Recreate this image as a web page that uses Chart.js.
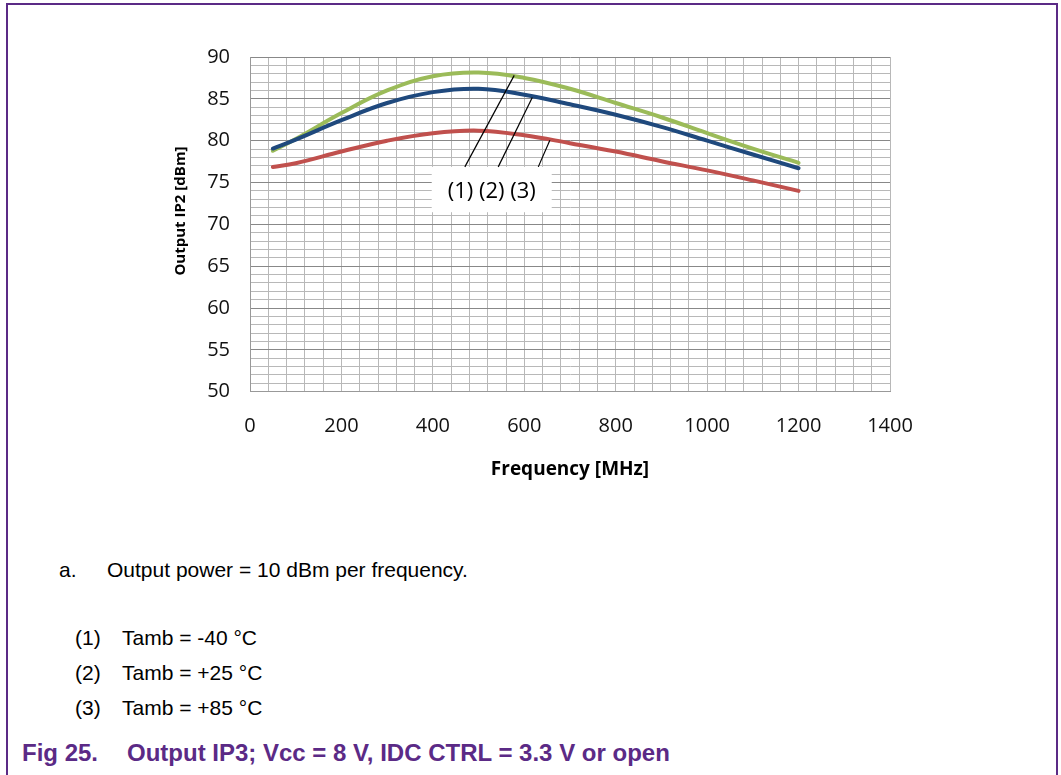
<!DOCTYPE html>
<html>
<head>
<meta charset="utf-8">
<script src="https://cdn.jsdelivr.net/npm/chart.js@4.4.1/dist/chart.umd.min.js"></script>
<style>
  html, body { margin: 0; padding: 0; background: #fff; }
  body { width: 1061px; height: 775px; position: relative; overflow: hidden; font-family: "Liberation Sans", Arial, sans-serif; }
  #frame { position: absolute; left: 6px; top: 3px; width: 1048px; height: 820px; border: 2px solid #5b2a86; border-bottom: none; }
  #wrap { position: absolute; left: 0; top: 0; width: 1061px; height: 520px; }
  .txt { position: absolute; font-size: 21px; line-height: 21px; color: #000; white-space: pre; }
  .fig { position: absolute; font-size: 24px; line-height: 24px; font-weight: bold; color: #5b2a86; white-space: pre; }
</style>
</head>
<body>
<div id="frame"></div>
<div id="wrap"><canvas id="ip2Chart"></canvas></div>

<div class="txt" style="left:59px; top:559px;">a.</div>
<div class="txt" style="left:107px; top:559px;">Output power = 10 dBm per frequency.</div>
<div class="txt" style="left:75px; top:627px;">(1)</div>
<div class="txt" style="left:122px; top:627px;">Tamb = -40 °C</div>
<div class="txt" style="left:75px; top:662px;">(2)</div>
<div class="txt" style="left:122px; top:662px;">Tamb = +25 °C</div>
<div class="txt" style="left:75px; top:697px;">(3)</div>
<div class="txt" style="left:122px; top:697px;">Tamb = +85 °C</div>
<div class="fig" style="left:22px; top:741px;">Fig 25.</div>
<div class="fig" style="left:127px; top:741px;">Output IP3; Vcc = 8 V, IDC CTRL = 3.3 V or open</div>

<script>
// frequency points (MHz) and output IP2 (dBm) per temperature
const freqMHz = [50, 100, 200, 300, 400, 500, 600, 700, 800, 900, 1000, 1100, 1200];
const ip2Minus40 = [78.8, 80.2, 83.3, 86.0, 87.7, 88.15, 87.5, 86.2, 84.5, 82.8, 80.9, 79.05, 77.35];
const ip2Plus25 = [79.06, 80.13, 82.45, 84.5, 85.8, 86.2, 85.5, 84.35, 83.1, 81.65, 80.0, 78.35, 76.7];
const ip2Plus85 = [76.85, 77.3, 78.7, 80.0, 80.9, 81.2, 80.65, 79.7, 78.7, 77.55, 76.45, 75.25, 74.0];

const yTitle = 'Output IP2 [dBm]';
const curveLabel = '(1) (2) (3)';
// leader lines: [f start, dBm start, f end, dBm end]
const leaderLines = [
    [470, 76.87, 578, 87.8],
    [543, 76.87, 617.5, 85.15],
    [630.6, 76.87, 656, 80.06]
];
// label box: [f left, dBm top, f right, dBm bottom]
const labelBox = [397.5, 76.87, 660, 71.45];

const toPoints = (ys) => freqMHz.map((f, i) => ({ x: f, y: ys[i] }));

const labelPlugin = {
    id: 'curveLabels',
    afterDatasetsDraw(chart) {
        const { ctx, scales: { x, y } } = chart;
        ctx.save();
        const bx0 = x.getPixelForValue(labelBox[0]);
        const by0 = y.getPixelForValue(labelBox[1]);
        const bx1 = x.getPixelForValue(labelBox[2]);
        const by1 = y.getPixelForValue(labelBox[3]);
        ctx.fillStyle = '#fff';
        ctx.fillRect(bx0, by0, bx1 - bx0, by1 - by0);
        ctx.fillStyle = '#000';
        ctx.font = '22px "Open Sans"';
        ctx.textAlign = 'center';
        ctx.textBaseline = 'middle';
        ctx.fillText(curveLabel, (bx0 + bx1) / 2, (by0 + by1) / 2 + 2);
        ctx.strokeStyle = '#000';
        ctx.lineWidth = 1.2;
        leaderLines.forEach(l => {
            ctx.beginPath();
            ctx.moveTo(x.getPixelForValue(l[0]), y.getPixelForValue(l[1]));
            ctx.lineTo(x.getPixelForValue(l[2]), y.getPixelForValue(l[3]));
            ctx.stroke();
        });

        // y axis title, sits a little above the plot centre like the original
        ctx.translate(181, 211);
        ctx.rotate(-Math.PI / 2);
        ctx.font = 'bold 15px "Open Sans"';
        ctx.fillText(yTitle, 0, 0);
        ctx.restore();
    }
};

new Chart(document.getElementById('ip2Chart'), {
    type: 'line',
    data: {
        datasets: [
            { label: 'Tamb = -40 °C', data: toPoints(ip2Minus40), borderColor: '#9bbb59', order: 1 },
            { label: 'Tamb = +25 °C', data: toPoints(ip2Plus25), borderColor: '#1f497d', order: 0 },
            { label: 'Tamb = +85 °C', data: toPoints(ip2Plus85), borderColor: '#c0504d', order: 2 }
        ]
    },
    options: {
        responsive: true,
        maintainAspectRatio: false,
        animation: false,
        elements: {
            line: { borderWidth: 4, tension: 0.4, borderCapStyle: 'round', fill: false },
            point: { radius: 0 }
        },
        layout: { padding: { left: 150, top: 57, right: 171, bottom: 0 } },
        plugins: {
            legend: { display: false },
            tooltip: { enabled: false }
        },
        scales: {
            x: {
                type: 'linear',
                min: 0,
                max: 1400,
                afterFit: (s) => { s.height = 128.3; },
                ticks: {
                    stepSize: 40,
                    autoSkip: false,
                    maxRotation: 0,
                    padding: 23,
                    color: '#111',
                    font: { family: 'Open Sans', size: 20 },
                    callback: (v) => (v % 200 === 0 ? v : '')
                },
                grid: { color: '#b8b8b8', drawTicks: false },
                border: { color: '#999' },
                title: {
                    display: true,
                    text: 'Frequency [MHz]',
                    color: '#000',
                    font: { family: 'Open Sans', size: 19, weight: 'bold' },
                    padding: { top: 0, bottom: 38.6 }
                }
            },
            y: {
                min: 50,
                max: 90,
                afterFit: (s) => { s.width = 100; },
                ticks: {
                    stepSize: 1,
                    autoSkip: false,
                    padding: 20,
                    color: '#111',
                    font: { family: 'Open Sans', size: 20 },
                    callback: (v) => (v % 5 === 0 ? v : '')
                },
                grid: {
                    drawTicks: false,
                    color: (c) => (c.tick && c.tick.value % 5 === 0 ? '#888' : '#b8b8b8')
                },
                border: { color: '#999' }
            }
        }
    },
    plugins: [labelPlugin]
});
</script>
</body>
</html>
